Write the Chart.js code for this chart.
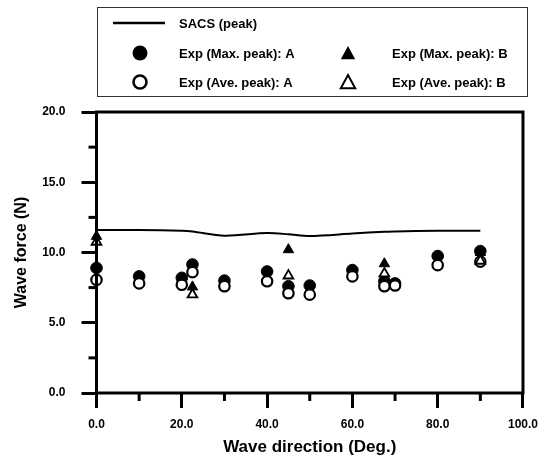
<!DOCTYPE html>
<html>
<head>
<meta charset="utf-8">
<style>
  html, body { margin: 0; padding: 0; background: #fff; }
</style>
<script src="https://cdn.jsdelivr.net/npm/chart.js@4.4.1/dist/chart.umd.min.js"></script>
</head>
<body>
<canvas id="forceChart" width="547" height="458"></canvas>
<script>
// wave direction (deg) for each measured case
const directionsA = [0, 10, 20, 22.5, 30, 40, 45, 50, 60, 67.5, 70, 80, 90];
const maxPeakA = [8.9, 8.3, 8.2, 9.15, 8.0, 8.65, 7.6, 7.65, 8.75, 7.95, 7.8, 9.75, 10.1];
const avePeakA = [8.05, 7.8, 7.7, 8.6, 7.6, 7.95, 7.1, 7.0, 8.3, 7.6, 7.65, 9.1, 9.35];

const directionsB = [0, 22.5, 45, 67.5, 90];
const maxPeakB = [11.15, 7.55, 10.2, 9.2, 10.0];
const avePeakB = [10.75, 7.0, 8.35, 8.5, 9.4];

const sacsDirections = [0, 10, 20, 22.5, 30, 40, 45, 50, 60, 67.5, 70, 80, 90];
const sacsPeak = [11.6, 11.6, 11.55, 11.5, 11.2, 11.38, 11.3, 11.18, 11.35, 11.48, 11.5, 11.55, 11.55];

// axis ranges: labelled (major) step and unlabelled (minor) step
const xAxis = { min: 0, max: 100, major: 20, minor: 10 };
const yAxis = { min: 0, max: 20, major: 5, minor: 2.5 };

const FONT = '"Liberation Sans", Arial, Helvetica, sans-serif';

function toPoints(xs, ys) {
    return xs.map((x, i) => ({ x: x, y: ys[i] }));
}

// frame, short minor ticks and the legend box
const framePlugin = {
    id: 'frame',
    afterDraw(chart) {
        const c = chart.ctx;
        const area = chart.chartArea;
        const sx = chart.scales.x, sy = chart.scales.y;
        c.save();
        c.strokeStyle = '#000';
        c.fillStyle = '#000';
        c.lineWidth = 3;
        c.strokeRect(area.left, area.top, area.right - area.left, area.bottom - area.top);

        for (let v = xAxis.min + xAxis.minor; v < xAxis.max; v += xAxis.major) {
            const px = sx.getPixelForValue(v);
            c.fillRect(px - 1.5, area.bottom, 3, 8);
        }
        for (let v = yAxis.min + yAxis.minor; v < yAxis.max; v += yAxis.major) {
            const py = sy.getPixelForValue(v);
            c.fillRect(area.left - 8, py - 1.5, 8, 3);
        }

        // legend
        c.lineWidth = 1;
        c.strokeStyle = '#333';
        c.strokeRect(97.5, 7.5, 430, 89);

        c.strokeStyle = '#000';
        c.lineWidth = 2.5;
        c.beginPath();
        c.moveTo(113, 23);
        c.lineTo(165, 23);
        c.stroke();

        const drawTri = (cx, cy, r, filled) => {
            c.beginPath();
            c.moveTo(cx, cy - r);
            c.lineTo(cx + r * 0.9, cy + r * 0.65);
            c.lineTo(cx - r * 0.9, cy + r * 0.65);
            c.closePath();
            if (filled) c.fill(); else { c.lineWidth = 2; c.stroke(); }
        };
        c.beginPath();
        c.arc(140, 53, 7.5, 0, Math.PI * 2);
        c.fill();
        c.beginPath();
        c.lineWidth = 2.5;
        c.arc(140, 82, 6.5, 0, Math.PI * 2);
        c.stroke();
        drawTri(348, 54, 8, true);
        drawTri(348, 83, 8, false);

        c.font = 'bold 13px ' + FONT;
        c.textBaseline = 'middle';
        c.textAlign = 'left';
        c.fillText('SACS (peak)', 179, 24);
        c.fillText('Exp (Max. peak): A', 179, 54);
        c.fillText('Exp (Max. peak): B', 392, 54);
        c.fillText('Exp (Ave. peak): A', 179, 83);
        c.fillText('Exp (Ave. peak): B', 392, 83);
        c.restore();
    }
};

new Chart(document.getElementById('forceChart').getContext('2d'), {
    type: 'scatter',
    data: {
        datasets: [
            {
                label: 'SACS (peak)',
                type: 'line',
                data: toPoints(sacsDirections, sacsPeak),
                borderColor: '#000',
                borderWidth: 2,
                pointRadius: 0,
                fill: false,
                tension: 0.3,
                order: 5
            },
            {
                label: 'Exp (Max. peak): A',
                data: toPoints(directionsA, maxPeakA),
                pointStyle: 'circle',
                pointRadius: 5.8,
                backgroundColor: '#000',
                borderColor: '#000',
                borderWidth: 1,
                clip: 10,
                order: 4
            },
            {
                label: 'Exp (Max. peak): B',
                data: toPoints(directionsB, maxPeakB),
                pointStyle: 'triangle',
                pointRadius: 6,
                backgroundColor: '#000',
                borderColor: '#000',
                borderWidth: 1,
                clip: 10,
                order: 3
            },
            {
                label: 'Exp (Ave. peak): A',
                data: toPoints(directionsA, avePeakA),
                pointStyle: 'circle',
                pointRadius: 5.2,
                backgroundColor: '#fff',
                borderColor: '#000',
                borderWidth: 2.2,
                clip: 10,
                order: 2
            },
            {
                label: 'Exp (Ave. peak): B',
                data: toPoints(directionsB, avePeakB),
                pointStyle: 'triangle',
                pointRadius: 5.6,
                backgroundColor: '#fff',
                borderColor: '#000',
                borderWidth: 1.8,
                clip: 10,
                order: 1
            }
        ]
    },
    options: {
        responsive: false,
        animation: false,
        layout: { padding: { top: 112, right: 18, left: 0, bottom: 0 } },
        plugins: {
            legend: { display: false },
            tooltip: { enabled: false }
        },
        scales: {
            x: {
                type: 'linear',
                min: xAxis.min,
                max: xAxis.max,
                afterFit: scale => { scale.height = 65; },
                grid: {
                    drawOnChartArea: false,
                    tickLength: 15,
                    tickWidth: 3,
                    tickColor: '#000'
                },
                ticks: {
                    stepSize: xAxis.major,
                    padding: 9,
                    maxRotation: 0,
                    color: '#000',
                    font: { family: FONT, size: 12, weight: 'bold' },
                    callback: v => Number(v).toFixed(1)
                },
                title: {
                    display: true,
                    text: 'Wave direction (Deg.)',
                    color: '#000',
                    font: { family: FONT, size: 17, weight: 'bold' },
                    padding: { top: 0, bottom: 0 }
                }
            },
            y: {
                type: 'linear',
                min: yAxis.min,
                max: yAxis.max,
                afterFit: scale => { scale.width = 96.5; },
                grid: {
                    drawOnChartArea: false,
                    tickLength: 15,
                    tickWidth: 3,
                    tickColor: '#000'
                },
                ticks: {
                    stepSize: yAxis.major,
                    padding: 16,
                    color: '#000',
                    font: { family: FONT, size: 12, weight: 'bold' },
                    callback: v => Number(v).toFixed(1)
                },
                title: {
                    display: true,
                    text: 'Wave force (N)',
                    color: '#000',
                    font: { family: FONT, size: 16, weight: 'bold' },
                    padding: { top: 12, bottom: 0 }
                }
            }
        }
    },
    plugins: [framePlugin]
});
</script>
</body>
</html>
